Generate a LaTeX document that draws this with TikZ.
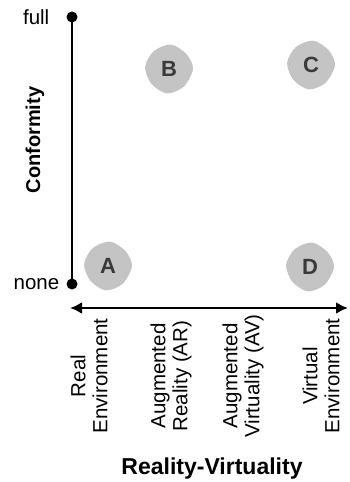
\documentclass[tikz,border=0pt]{standalone}
\usepackage{fontspec}
\setmainfont{Liberation Sans}
\usetikzlibrary{arrows.meta,positioning}
\definecolor{blobgray}{RGB}{196,196,196}
\definecolor{lettergray}{RGB}{58,58,58}
\newcommand*{\axisfont}{\fontsize{20.5}{22}\selectfont}
\newcommand*{\titlefont}{\fontsize{20}{22}\selectfont\bfseries}
\tikzset{
  dot/.style={circle,fill=black,inner sep=0pt,minimum size=11pt},
  letter/.style={font=\fontsize{22}{24}\selectfont\bfseries,text=lettergray},
  axislabel/.style={font=\axisfont,rotate=90,align=center},
}
\newcommand*{\blobat}[1]{%
  \fill[blobgray,shift={(#1)}] plot[smooth cycle] coordinates
    {(0:24) (50:23) (95:24.5) (140:23) (185:24) (230:23.5) (275:24.5) (320:23)};}

\begin{document}
\begin{tikzpicture}[x=1pt,y=-1pt,thick]
    \useasboundingbox (0,0) rectangle (350,482);
    \node[dot] (full) at (72,17) {};
    \node[dot] (none) at (72,284) {};
    \coordinate (rvleft) at (70,308);
    \coordinate (rvright) at (348,308);
    \draw[line width=2.6pt] (full.center) -- (none.center);
    \draw[line width=2.6pt,{Latex[length=12pt,width=12pt]}-{Latex[length=12pt,width=12pt]}] (rvleft) -- (rvright);
    \node[font=\axisfont,left=19pt] at (full) {full};
    \node[font=\axisfont,left=9pt] at (none) {none};
    \node[font=\titlefont,rotate=90] (conformity) at (35,140) {Conformity};
    \blobat{108,266} \node[letter] (A) at (108,266) {A};
    \blobat{169,69} \node[letter] (B) at (169,69) {B};
    \blobat{311,65} \node[letter] (C) at (311,65) {C};
    \blobat{310,267} \node[letter] (D) at (310,267) {D};
    \node[axislabel] (re) at (89,376) {Real\\Environment};
    \node[axislabel] (ar) at (171,376) {Augmented\\Reality (AR)};
    \node[axislabel] (av) at (243,376) {Augmented\\Virtuality (AV)};
    \node[axislabel] (ve) at (321,376) {Virtual\\Environment};
    \node[font=\fontsize{23}{25}\selectfont\bfseries] (rv) at (212,469) {Reality-Virtuality};
  \end{tikzpicture}
\end{document}
